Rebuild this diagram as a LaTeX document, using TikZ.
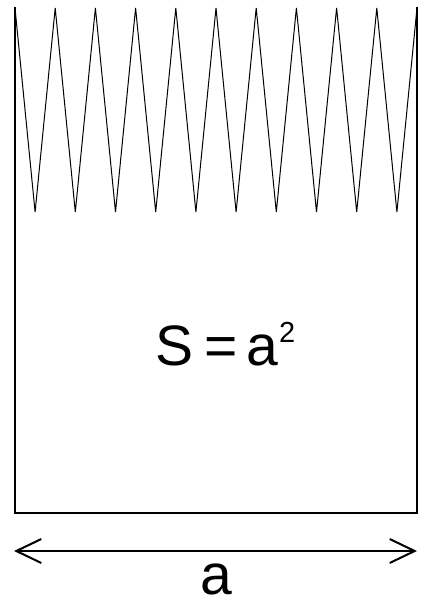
\documentclass[tikz,border=0pt]{standalone}
\usepackage{fontspec}
\setmainfont{Liberation Sans}
\usetikzlibrary{arrows.meta}
\begin{document}
\begin{tikzpicture}[x=1pt,y=-1pt,
  wall/.style={line width=1.6pt,line cap=rect},
  teeth/.style={line width=1pt,line join=miter},
  dimline/.style={line width=2pt,{Straight Barb[length=25pt,width=24pt,line width=2pt]}-{Straight Barb[length=25pt,width=24pt,line width=2pt]}},
  lbl/.style={inner sep=0pt,anchor=base west,font=\fontsize{57}{60}\selectfont},
  suplbl/.style={inner sep=0pt,anchor=base west,font=\fontsize{29}{30}\selectfont}]
\useasboundingbox (0,0) rectangle (422,602);
% walls
\coordinate (tl) at (15,8);
\coordinate (tr) at (417,8);
\coordinate (bl) at (15,513);
\coordinate (br) at (417,513);
\draw[wall] (tl) -- (bl) -- (br) -- (tr);
% zigzag
\draw[teeth] (tl)
  \foreach \k in {0,...,9} { -- ({15+20.1+40.2*\k},212) -- ({15+40.2*(\k+1)},8) };
% text
\node[lbl] (S) at (155.3,365) {S};
\node[lbl] (eq) at (204.3,365) {=};
\node[lbl] (a1) at (246,365) {a};
\node[suplbl] (two) at (279,342) {2};
% dimension arrow
\coordinate (al) at (14,551);
\coordinate (ar) at (417,551);
\draw[dimline] (al) -- (ar);
\node[lbl] (a2) at (200,594.5) {a};
\end{tikzpicture}
\end{document}
